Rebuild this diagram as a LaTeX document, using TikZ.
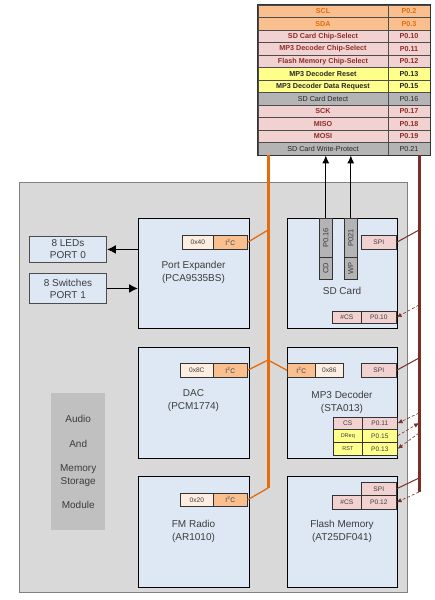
\documentclass[tikz,border=0pt]{standalone}
\usepackage{fontspec}
\setmainfont{Liberation Sans}
\usetikzlibrary{arrows.meta}
\definecolor{obus}{RGB}{228,108,10}
\definecolor{rbus}{RGB}{125,45,40}
\definecolor{i2cfill}{RGB}{250,191,143}
\definecolor{addrfill}{RGB}{253,238,225}
\definecolor{pinkfill}{RGB}{242,210,208}
\definecolor{yelfill}{RGB}{255,255,140}
\definecolor{grayfill}{RGB}{180,180,180}
\definecolor{boxfill}{RGB}{222,232,244}
\definecolor{modfill}{RGB}{217,217,217}
\definecolor{audfill}{RGB}{192,192,192}
\definecolor{pinktext}{RGB}{140,45,42}
\definecolor{txt}{RGB}{60,60,60}
\begin{document}
\begin{tikzpicture}[x=1pt,y=-1pt,
  mainbox/.style={draw=black, line width=1.3pt, fill=boxfill, anchor=north west, inner sep=0},
  tab/.style={draw=black!80, line width=0.6pt, anchor=north west, inner sep=0, text=txt, font=\fontsize{6.6}{7}\selectfont},
  lbl/.style={align=center, text=txt, font=\fontsize{10}{13}\selectfont},
  cellL/.style={draw=black!70, line width=0.6pt, minimum width=130pt, minimum height=12.5pt, inner sep=0, font=\fontsize{7.2}{8}\selectfont\bfseries},
  cellR/.style={draw=black!70, line width=0.6pt, minimum width=42pt, minimum height=12.5pt, inner sep=0, font=\fontsize{7.2}{8}\selectfont\bfseries},
  orangerow/.style={fill=i2cfill, text=obus},
  pinkrow/.style={fill=pinkfill, text=pinktext},
  yellowrow/.style={fill=yelfill, text=black!85},
  grayrow/.style={fill=grayfill, text=black!85, font=\fontsize{7.2}{8}\selectfont},
  sidebox/.style={draw=black!70, line width=0.9pt, fill=boxfill, anchor=north west, inner sep=0, align=center, text=txt, font=\fontsize{10}{12}\selectfont},
  ipin/.style={draw=rbus, line width=0.6pt, densely dashed, -{Latex[length=5pt,width=4.5pt]}},
  strip/.style={draw=black!80, line width=0.6pt, fill=grayfill, anchor=north west, inner sep=0, text=txt, font=\fontsize{7.5}{7.5}\selectfont, minimum width=13pt}
]
\useasboundingbox (0,0) rectangle (434,600);

% module background
\node[draw=black!50, line width=0.8pt, fill=modfill, minimum width=388pt, minimum height=410pt, anchor=north west, inner sep=0] (mod) at (19,182) {};

% pin table
\node[cellL, orangerow] (L1) at (323,11.25) {SCL};
\node[cellR, orangerow] (R1) at (409,11.25) {P0.2};
\node[cellL, orangerow] (L2) at (323,23.75) {SDA};
\node[cellR, orangerow] (R2) at (409,23.75) {P0.3};
\node[cellL, pinkrow] (L3) at (323,36.25) {SD Card Chip-Select};
\node[cellR, pinkrow] (R3) at (409,36.25) {P0.10};
\node[cellL, pinkrow] (L4) at (323,48.75) {MP3 Decoder Chip-Select};
\node[cellR, pinkrow] (R4) at (409,48.75) {P0.11};
\node[cellL, pinkrow] (L5) at (323,61.25) {Flash Memory Chip-Select};
\node[cellR, pinkrow] (R5) at (409,61.25) {P0.12};
\node[cellL, yellowrow] (L6) at (323,73.75) {MP3 Decoder Reset};
\node[cellR, yellowrow] (R6) at (409,73.75) {P0.13};
\node[cellL, yellowrow] (L7) at (323,86.25) {MP3 Decoder Data Request};
\node[cellR, yellowrow] (R7) at (409,86.25) {P0.15};
\node[cellL, grayrow] (L8) at (323,98.75) {SD Card Detect};
\node[cellR, grayrow] (R8) at (409,98.75) {P0.16};
\node[cellL, pinkrow] (L9) at (323,111.25) {SCK};
\node[cellR, pinkrow] (R9) at (409,111.25) {P0.17};
\node[cellL, pinkrow] (L10) at (323,123.75) {MISO};
\node[cellR, pinkrow] (R10) at (409,123.75) {P0.18};
\node[cellL, pinkrow] (L11) at (323,136.25) {MOSI};
\node[cellR, pinkrow] (R11) at (409,136.25) {P0.19};
\node[cellL, grayrow] (L12) at (323,148.75) {SD Card Write-Protect};
\node[cellR, grayrow] (R12) at (409,148.75) {P0.21};
\draw[line width=1pt, black!80] (L1.north west) rectangle (R12.south east);

% buses
\coordinate (obTop) at (268,155);
\coordinate (obBot) at (268,488);
\coordinate (rbTop) at (419,155);
\coordinate (rbBot) at (419,492);
\draw[obus, line width=3pt] (obTop) -- (obBot);
\draw[rbus, line width=3pt] (rbTop) -- (rbBot);

% side boxes
\node[sidebox, minimum width=77pt, minimum height=26pt] (leds) at (29,236) {8 LEDs\\PORT 0};
\node[sidebox, minimum width=77pt, minimum height=30pt] (sw) at (29,273) {8 Switches\\PORT 1};

% audio module label
\node[fill=audfill, anchor=north west, minimum width=54pt, minimum height=137pt, inner sep=0] (aud) at (51,393) {};
\node[lbl] (audtxt) at (aud.center) {Audio\\[12pt]And\\[11pt]Memory\\Storage\\[11pt]Module};

% main boxes
\node[mainbox, minimum width=111pt, minimum height=110pt] (pe) at (138,218) {};
\node[mainbox, minimum width=110pt, minimum height=110pt] (sd) at (287,218) {};
\node[mainbox, minimum width=111pt, minimum height=111pt] (dac) at (138,347) {};
\node[mainbox, minimum width=110pt, minimum height=111pt] (mp3) at (287,347) {};
\node[mainbox, minimum width=111pt, minimum height=111pt] (fm) at (138,476) {};
\node[mainbox, minimum width=110pt, minimum height=111pt] (fl) at (287,476) {};

\node[lbl] (pel) at (193.5,272) {Port Expander\\(PCA9535BS)};
\node[lbl] (sdl) at (342,291) {SD Card};
\node[lbl] (dacl) at (193.5,401) {DAC\\(PCM1774)};
\node[lbl] (mp3l) at (342,402) {MP3 Decoder\\(STA013)};
\node[lbl] (fml) at (193.5,531) {FM Radio\\(AR1010)};
\node[lbl] (fll) at (342,531) {Flash Memory\\(AT25DF041)};

% I2C tabs
\node[tab, fill=addrfill, minimum width=31pt, minimum height=14pt] (pea) at (182,235) {0x40};
\node[tab, fill=i2cfill, minimum width=34pt, minimum height=14pt] (pei) at (213,235) {I\textsuperscript{2}C};
\node[tab, fill=addrfill, minimum width=33pt, minimum height=14pt] (daca) at (180,363) {0x8C};
\node[tab, fill=i2cfill, minimum width=34pt, minimum height=14pt] (daci) at (213,363) {I\textsuperscript{2}C};
\node[tab, fill=addrfill, minimum width=33pt, minimum height=13pt] (fma) at (180,493) {0x20};
\node[tab, fill=i2cfill, minimum width=34pt, minimum height=13pt] (fmi) at (213,493) {I\textsuperscript{2}C};
\node[tab, fill=i2cfill, minimum width=28pt, minimum height=14pt] (mp3i) at (287,363) {I\textsuperscript{2}C};
\node[tab, fill=addrfill, minimum width=28pt, minimum height=14pt] (mp3a) at (315,363) {0x86};

% SPI tabs
\node[tab, fill=pinkfill, minimum width=35pt, minimum height=14pt] (sdspi) at (361,235) {SPI};
\node[tab, fill=pinkfill, minimum width=35pt, minimum height=14pt] (mp3spi) at (361,363) {SPI};
\node[tab, fill=pinkfill, minimum width=35pt, minimum height=13pt] (flspi) at (361,482) {SPI};

% CS tabs
\node[tab, fill=pinkfill, minimum width=29pt, minimum height=12pt] (sdcs) at (332,311) {\#CS};
\node[tab, fill=pinkfill, minimum width=35pt, minimum height=12pt] (sdp) at (361,311) {P0.10};
\node[tab, fill=pinkfill, minimum width=29pt, minimum height=14pt] (flcs) at (332,495) {\#CS};
\node[tab, fill=pinkfill, minimum width=35pt, minimum height=14pt] (flp) at (361,495) {P0.12};

% MP3 pins
\node[tab, fill=pinkfill, minimum width=29pt, minimum height=12pt] (mcs) at (333,417) {CS};
\node[tab, fill=pinkfill, minimum width=35pt, minimum height=12pt] (mcsp) at (362,417) {P0.11};
\node[tab, fill=yelfill, minimum width=29pt, minimum height=13pt, font=\fontsize{5.5}{6}\selectfont] (mdr) at (333,429) {DReq};
\node[tab, fill=yelfill, minimum width=35pt, minimum height=13pt] (mdrp) at (362,429) {P0.15};
\node[tab, fill=yelfill, minimum width=29pt, minimum height=13pt, font=\fontsize{5.5}{6}\selectfont] (mrst) at (333,442) {RST};
\node[tab, fill=yelfill, minimum width=35pt, minimum height=13pt] (mrstp) at (362,442) {P0.13};

% SD strips
\node[strip, minimum height=39pt] (p16) at (319,218) {\rotatebox{90}{P0.16}};
\node[strip, minimum height=22pt] (cd) at (319,257) {\rotatebox{90}{CD}};
\node[strip, minimum height=39pt] (p21) at (344,218) {\rotatebox{90}{P021}};
\node[strip, minimum height=22pt] (wp) at (344,257) {\rotatebox{90}{WP}};

% SD detect / write-protect arrows
\draw[line width=1.2pt, -{Latex[length=8pt,width=7pt]}] (p16.north) -- (p16.north |- L12.south);
\draw[line width=1.2pt, -{Latex[length=8pt,width=7pt]}] (p21.north) -- (p21.north |- L12.south);

% port expander arrows
\draw[line width=1.5pt, -{Latex[length=9pt,width=9pt]}] (pe.west |- leds.east) -- (leds.east);
\draw[line width=1.5pt, -{Latex[length=9pt,width=9pt]}] (sw.east) -- (pe.west |- sw.east);

% I2C connections
\coordinate (o1) at (268,230);
\coordinate (o2) at (268,360);
\draw[obus, line width=1.3pt] (pei.east) -- (o1);
\draw[obus, line width=1.3pt] (daci.east) -- (o2) -- (mp3i.west);
\draw[obus, line width=1.3pt] (fmi.east) -- (obBot);

% SPI connections
\coordinate (r1) at (419,230);
\coordinate (r2) at (419,358);
\coordinate (r3) at (419,478);
\draw[rbus, line width=1pt] (sdspi.east) -- (r1);
\draw[rbus, line width=1pt] (mp3spi.east) -- (r2);
\draw[rbus, line width=1pt] (flspi.east) -- (r3);

% chip-select / control lines
\coordinate (c1) at (419,305);
\coordinate (c2) at (419,413);
\coordinate (c3) at (419,423);
\coordinate (c4) at (419,433);
\draw[ipin] (c1) -- (sdp.east);
\draw[ipin] (c2) -- (mcsp.east);
\draw[ipin] (mdrp.east) -- (c3);
\draw[ipin] (c4) -- (mrstp.east);
\draw[ipin] (rbBot) -- (flp.east);
\end{tikzpicture}
\end{document}
